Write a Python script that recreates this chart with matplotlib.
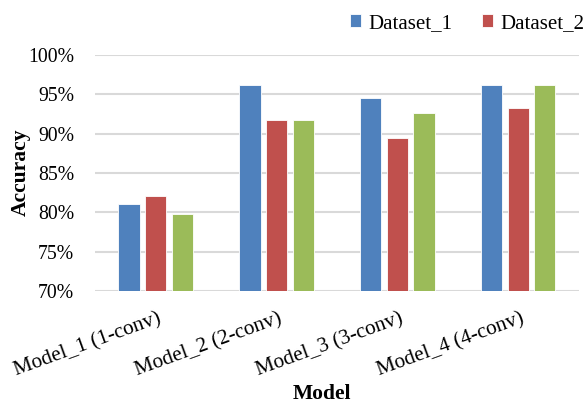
import numpy as np
import matplotlib.pyplot as plt
from matplotlib.ticker import FuncFormatter

plt.rcParams["font.family"] = ["Liberation Serif", "DejaVu Serif"]

models = ["Model_1 (1-conv)", "Model_2 (2-conv)", "Model_3 (3-conv)", "Model_4 (4-conv)"]
dataset_1 = [81.0, 96.2, 94.5, 96.2]
dataset_2 = [82.1, 91.7, 89.5, 93.3]
dataset_3 = [79.8, 91.8, 92.6, 96.2]
series_names = ["Dataset_1", "Dataset_2", "Dataset_3"]
colors = ["#4F81BD", "#C0504D", "#9BBB59"]

fig = plt.figure(figsize=(5.84, 4.09), dpi=100)
ax = fig.add_axes([0.163, 0.289, 0.828, 0.576])

x = np.arange(len(models))
width = 0.175
step = 0.22
bars = []
for i, (vals, name, color) in enumerate(zip([dataset_1, dataset_2, dataset_3], series_names, colors)):
    b = ax.bar(x + (i - 1) * step, vals, width, color=color, edgecolor="white",
               linewidth=0.6, label=name, zorder=3)
    bars.append(b)

ax.set_ylim(70, 100)
ax.set_xlim(-0.5, len(models) - 0.5)
ax.set_yticks(np.arange(70, 101, 5))
ax.yaxis.set_major_formatter(FuncFormatter(lambda v, _: f"{v:.0f}%"))
ax.grid(axis="y", color="#d9d9d9", linewidth=1.5, zorder=0)
for s in ["top", "right", "left", "bottom"]:
    ax.spines[s].set_visible(False)
ax.tick_params(axis="both", length=0)
ax.tick_params(axis="y", labelsize=14.2, pad=15)
ax.tick_params(axis="x", labelsize=15.3, pad=20)

ax.set_xticks(x + 0.04)
ax.set_xticklabels(models, rotation=20, ha="right", va="center", rotation_mode="anchor")

fig.text(0.035, 0.58, "Accuracy", fontsize=15.5, fontweight="bold", rotation=90,
         ha="center", va="center")
fig.text(0.552, 0.037, "Model", fontsize=15.5, fontweight="bold", ha="center", va="center")

ax.legend(handles=bars[:2], labels=series_names[:2], loc="upper left",
          bbox_to_anchor=(0.567, 1.012), bbox_transform=fig.transFigure, ncol=2,
          frameon=False, fontsize=15, handlelength=0.55, handleheight=0.55,
          handletextpad=0.35, columnspacing=1.4)

fig.savefig("out.png", dpi=100)
